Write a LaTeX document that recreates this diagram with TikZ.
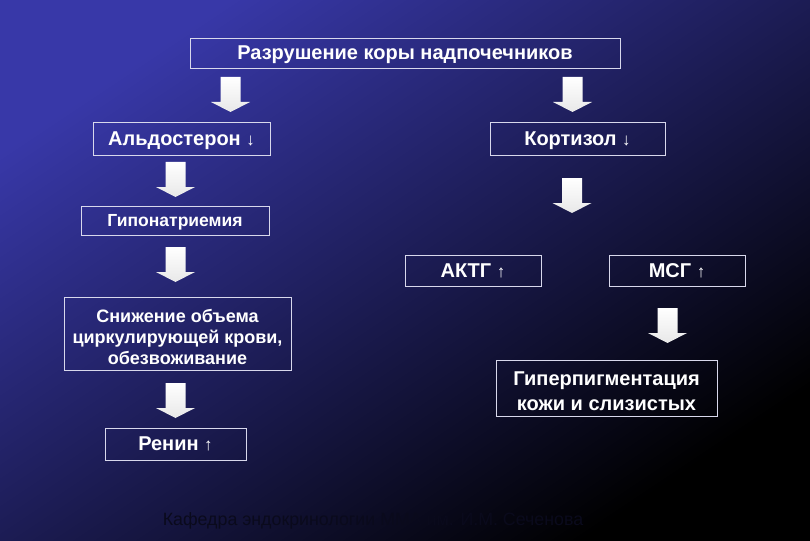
\documentclass[tikz,border=0pt]{standalone}
\usepackage{fontspec}
\setmainfont{Liberation Sans}
\definecolor{bgUL}{HTML}{3838A8}
\definecolor{bgMID}{HTML}{1A1A5C}
\definecolor{bgLR}{HTML}{000000}
\definecolor{boxline}{HTML}{D8D8EC}
\definecolor{footc}{HTML}{0A0A1C}
\tikzset{
  box/.style={draw=boxline, line width=0.9pt, text=white, font=\bfseries\fontsize{20}{24}\selectfont,
    inner sep=0pt, align=center, text depth=0pt},
  downarr/.pic={
    \shade[top color=white, bottom color=white!82!gray, draw=none]
      (-10,-17.5) -- (10,-17.5) -- (10,7.5) -- (19.5,7.5) -- (0,17.5) -- (-19.5,7.5) -- (-10,7.5) -- cycle;
  }
}
\newcommand{\dnar}{{\mdseries\fontsize{17}{20}\selectfont↓}}
\newcommand{\upar}{{\mdseries\fontsize{17}{20}\selectfont↑}}
\begin{document}
\begin{tikzpicture}[x=1pt,y=-1pt]
\useasboundingbox (0,0) rectangle (810,540);
\shade[top color=bgUL, middle color=bgMID, bottom color=bgLR, shading angle=33.7] (0,0) rectangle (810,540);

\node[box, minimum width=430pt, minimum height=30pt] (top) at (405,53) {Разрушение коры надпочечников};
\node[box, minimum width=177pt, minimum height=33pt] (aldo) at (181.5,138.5) {Альдостерон \dnar};
\node[box, minimum width=175pt, minimum height=33pt] (kort) at (577.5,138.5) {Кортизол \dnar};
\node[box, minimum width=188pt, minimum height=29pt, font=\bfseries\fontsize{17.5}{21}\selectfont] (gipo) at (175,220.5) {Гипонатриемия};
\node[box, minimum width=227pt, minimum height=73pt, font=\bfseries\fontsize{18}{21}\selectfont, text height=61pt] (sniz) at (177.5,333.5) {Снижение объема\\циркулирующей крови,\\обезвоживание};
\node[box, minimum width=141pt, minimum height=32pt] (renin) at (175.5,444) {Ренин \upar};
\node[box, minimum width=136pt, minimum height=31pt] (aktg) at (473,270.5) {АКТГ \upar};
\node[box, minimum width=136pt, minimum height=31pt] (msg) at (677,270.5) {МСГ \upar};
\node[box, minimum width=221pt, minimum height=56pt, font=\bfseries\fontsize{20}{25}\selectfont, text height=45pt] (giper) at (606.5,388) {Гиперпигментация\\кожи и слизистых};

\pic at (230.5,94.5) {downarr};
\pic at (572.5,94.5) {downarr};
\pic at (175.5,179.5) {downarr};
\pic at (175.5,264.5) {downarr};
\pic at (175.5,400.5) {downarr};
\pic at (572,195.5) {downarr};
\pic at (667.5,325.5) {downarr};

\node[text=footc, font=\fontsize{17.8}{21}\selectfont, inner sep=0pt] (foot) at (373,521) {Кафедра эндокринологии ММА им. И.М. Сеченова};
\end{tikzpicture}
\end{document}
